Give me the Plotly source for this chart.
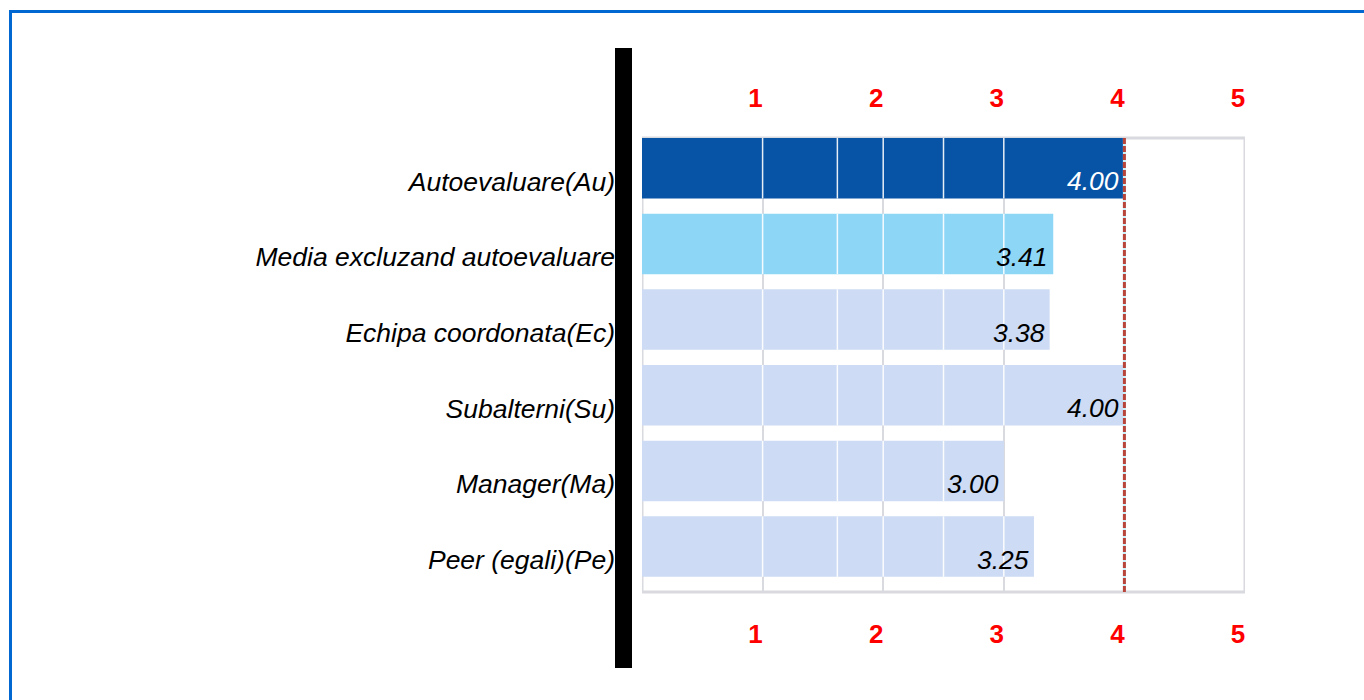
import plotly.graph_objects as go

# Evaluation sources and their average scores
categories = [
    "Autoevaluare(Au)",
    "Media excluzand autoevaluare",
    "Echipa coordonata(Ec)",
    "Subalterni(Su)",
    "Manager(Ma)",
    "Peer (egali)(Pe)",
]
scores = [4.00, 3.41, 3.38, 4.00, 3.00, 3.25]
score_labels = ["4.00", "3.41", "3.38", "4.00", "3.00", "3.25"]
scale_ticks = [1, 2, 3, 4, 5]

bar_colors = ["#0753a6", "#8ed6f6", "#cddbf4", "#cddbf4", "#cddbf4", "#cddbf4"]
label_colors = ["#ffffff", "#000000", "#000000", "#000000", "#000000", "#000000"]

FONT = "Arial, Liberation Sans, sans-serif"
GRID = "#d9dadf"

# Plot-area geometry in pixels (used to place decorations outside the axes)
L, T, R, B = 642, 138, 1245, 592
W_PX, H_PX = 1364, 700


def px_x(px):
    return (px - L) / (R - L)


def px_y(py):
    return (B - py) / (B - T)


idx = list(range(len(categories)))

fig = go.Figure()
fig.add_trace(go.Bar(
    x=scores,
    y=idx,
    orientation="h",
    width=0.8,
    marker=dict(color=bar_colors, line=dict(width=0)),
    hoverinfo="skip",
    showlegend=False,
))
# invisible trace that carries the top axis
fig.add_trace(go.Scatter(x=[0], y=[0], xaxis="x2", mode="markers",
                         marker=dict(opacity=0), hoverinfo="skip", showlegend=False))

shapes = []
# light frame around the plotting area
shapes.append(dict(type="rect", xref="x", yref="paper", x0=0, x1=5, y0=0, y1=1,
                   line=dict(color=GRID, width=3), layer="below"))
# thin white separators across each bar
for i, v in zip(idx, scores):
    for m in [1, 1.62, 2, 2.5, 3]:
        if m < v - 0.05:
            shapes.append(dict(type="line", xref="x", yref="y", x0=m, x1=m,
                               y0=i - 0.4, y1=i + 0.4,
                               line=dict(color="rgba(255,255,255,0.9)", width=1.5),
                               layer="above"))
# reference line at the self-evaluation score
self_score = scores[0]
shapes.append(dict(type="line", xref="x", yref="paper", x0=self_score, x1=self_score,
                   y0=0, y1=1, line=dict(color="#c9f0fb", width=3), layer="above"))
shapes.append(dict(type="line", xref="x", yref="paper", x0=self_score, x1=self_score,
                   y0=0, y1=1, line=dict(color="#b8443a", width=3, dash="6px,2px"),
                   layer="above"))
# thick black divider left of the plot
shapes.append(dict(type="rect", xref="paper", yref="paper",
                   x0=px_x(615), x1=px_x(632), y0=px_y(668), y1=px_y(48),
                   fillcolor="#000000", line=dict(width=0), layer="above"))
# blue page frame (top and left edges)
shapes.append(dict(type="line", xref="paper", yref="paper",
                   x0=px_x(9), x1=px_x(W_PX + 5), y0=px_y(11.5), y1=px_y(11.5),
                   line=dict(color="#0068d0", width=3)))
shapes.append(dict(type="line", xref="paper", yref="paper",
                   x0=px_x(10.5), x1=px_x(10.5), y0=px_y(10), y1=px_y(W_PX),
                   line=dict(color="#0068d0", width=3)))

annotations = []
for i, v, t, c in zip(idx, scores, score_labels, label_colors):
    annotations.append(dict(
        x=v, y=i, xref="x", yref="y", text=t, showarrow=False,
        xanchor="right", yanchor="middle", xshift=-3, yshift=-13,
        font=dict(family=FONT, size=26.5, color=c, style="italic"),
    ))

tick_font = dict(family=FONT, size=26, color="#ff0000", weight="bold")

fig.update_layout(
    width=W_PX, height=H_PX,
    margin=dict(l=L, r=W_PX - R, t=T, b=H_PX - B),
    paper_bgcolor="#ffffff",
    plot_bgcolor="#ffffff",
    bargap=0.2,
    shapes=shapes,
    annotations=annotations,
    xaxis=dict(
        range=[0, 5], tickvals=scale_ticks, ticktext=[str(t) for t in scale_ticks],
        showgrid=True, gridcolor=GRID, gridwidth=2, zeroline=False,
        showline=False, ticks="", tickfont=tick_font,
        ticklabelstandoff=24, ticklabelshift=-7, layer="below traces",
    ),
    xaxis2=dict(
        range=[0, 5], overlaying="x", side="top", matches="x",
        tickvals=scale_ticks, ticktext=[str(t) for t in scale_ticks],
        showgrid=False, zeroline=False, showline=False, ticks="",
        tickfont=tick_font, ticklabelstandoff=25, ticklabelshift=-7,
    ),
    yaxis=dict(
        range=[len(categories) - 0.4, -0.4],
        tickvals=idx, ticktext=categories,
        showgrid=False, zeroline=False, showline=False, ticks="",
        tickfont=dict(family=FONT, size=26.5, color="#000000", style="italic"),
        ticklabelstandoff=26, ticklabelshift=-13,
    ),
)

fig.write_html("out.html")
